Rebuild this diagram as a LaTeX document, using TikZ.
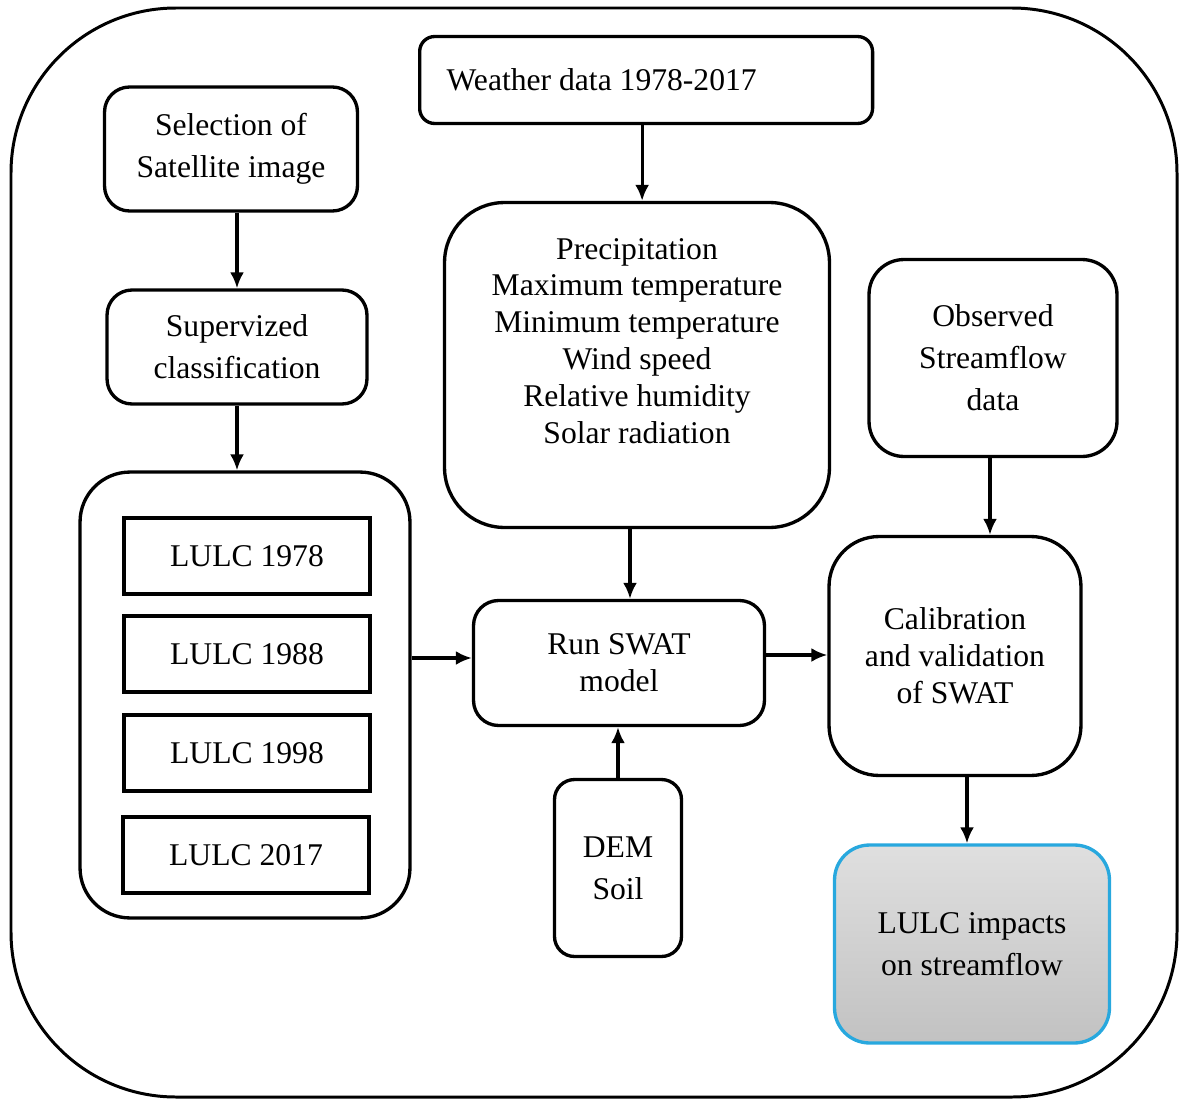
\documentclass[tikz,border=0pt]{standalone}
\usepackage{fontspec}
\setmainfont{Liberation Serif}
\usepackage{xcolor}
\usetikzlibrary{arrows.meta, positioning}

\definecolor{impactblue}{RGB}{40,168,222}

\begin{document}
\begin{tikzpicture}[
    x=0.02cm, y=-0.02cm,
    box/.style={draw, rectangle, rounded corners=0.5cm, line width=1.9pt, align=center, font=\rmfamily\fontsize{18}{24}\selectfont, inner sep=2pt},
    tightbox/.style={box, font=\rmfamily\fontsize{18}{21}\selectfont},
    yearbox/.style={draw, rectangle, line width=2pt, minimum width=4.92cm, minimum height=1.52cm, font=\rmfamily\fontsize{18}{24}\selectfont},
    arrow/.style={-{Latex[length=0.32cm,width=0.28cm]}, line width=1.8pt}
]
\useasboundingbox (0,0) rectangle (1181,1099);

% Outer frame
\draw[line width=1.7pt, rounded corners=3.3cm] (11,8) rectangle (1177,1097);

% Land use path
\node[box, minimum width=5.06cm, minimum height=2.48cm] (sel) at (231,149) {Selection of\\Satellite image};
\node[box, minimum width=5.2cm, minimum height=2.28cm] (sup) at (237,347) {Supervized\\classification};
\node[box, rounded corners=1cm, minimum width=6.6cm, minimum height=8.92cm] (lulc) at (245,695) {};
\node[yearbox] (l78) at (247,556) {LULC 1978};
\node[yearbox] (l88) at (247,654) {LULC 1988};
\node[yearbox] (l98) at (247,753) {LULC 1998};
\node[yearbox] (l17) at (246,855) {LULC 2017};

% Weather path
\node[box, rounded corners=0.3cm, text width=7.98cm, minimum height=1.74cm, anchor=west, align=flush left, inner xsep=0.54cm] (weather) at (418,80) {Weather data 1978-2017};
\node[box, rounded corners=1.2cm, minimum width=7.7cm, minimum height=6.5cm] (met) at (637,365) {};
\node[font=\rmfamily\fontsize{18}{21}\selectfont, align=center] (metlist) at (637,341) {Precipitation\\Maximum temperature\\Minimum temperature\\Wind speed\\Relative humidity\\Solar radiation};

% Model and outputs
\node[tightbox, minimum width=5.82cm, minimum height=2.5cm] (run) at (619,663) {Run SWAT\\model};
\node[box, rounded corners=0.4cm, minimum width=2.54cm, minimum height=3.54cm] (dem) at (618,868) {DEM\\Soil};
\node[box, rounded corners=0.7cm, minimum width=4.96cm, minimum height=3.94cm] (obs) at (993,358) {Observed\\Streamflow\\data};
\node[tightbox, rounded corners=1cm, minimum width=5.04cm, minimum height=4.78cm] (cal) at (955,656) {Calibration\\and validation\\of SWAT};
\node[box, draw=impactblue, rounded corners=0.7cm, top color=gray!25, bottom color=gray!48, minimum width=5.5cm, minimum height=3.96cm] (impact) at (972,944) {LULC impacts\\on streamflow};

\draw[arrow] (sel.south -| sup.north) -- (sup.north);
\draw[arrow] (sup.south) -- (sup.south |- lulc.north);
\draw[arrow] ([xshift=-0.08cm]weather.south) -- ([xshift=-0.08cm]weather.south |- met.north);
\draw[arrow] ([xshift=-0.14cm]met.south) -- ([xshift=-0.14cm]met.south |- run.north);
\draw[arrow] ([yshift=0.1cm]lulc.east |- run.west) -- ([yshift=0.1cm]run.west);
\draw[arrow] ([yshift=0.16cm]run.east) -- ([yshift=0.16cm]run.east -| cal.west);
\draw[arrow] ([xshift=-0.06cm]obs.south) -- ([xshift=-0.06cm]obs.south |- cal.north);
\draw[arrow] ([xshift=-0.1cm]impact.north |- cal.south) -- ([xshift=-0.1cm]impact.north);
\draw[arrow] (dem.north) -- (dem.north |- run.south);
\end{tikzpicture}
\end{document}
